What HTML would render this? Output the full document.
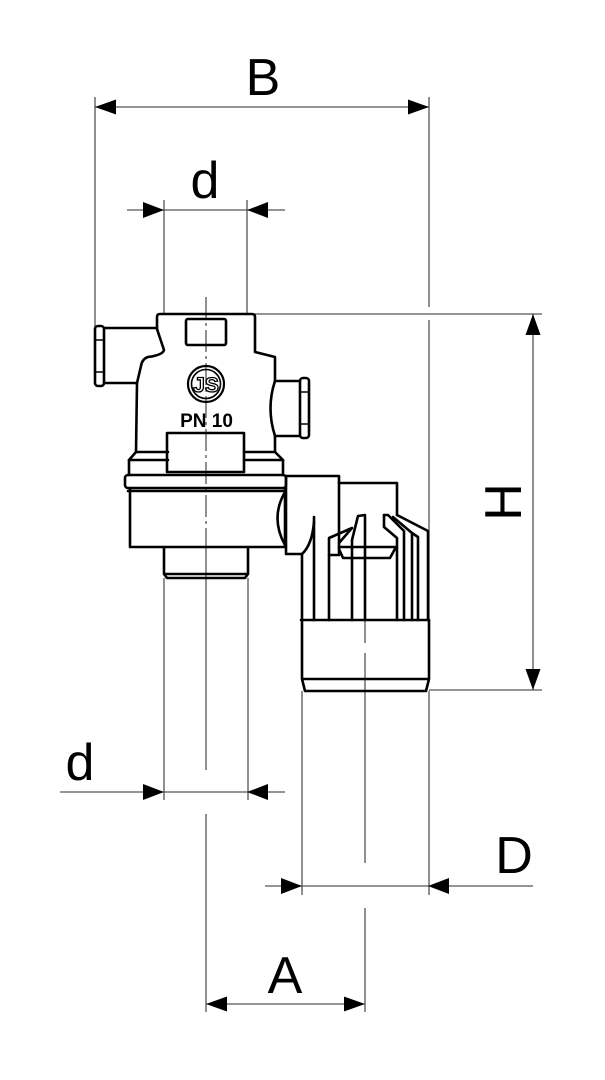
<!DOCTYPE html>
<html><head><meta charset="utf-8"><style>
html,body{margin:0;padding:0;background:#fff;}
svg{display:block;}
text{font-family:"Liberation Sans",sans-serif;}
</style></head><body>
<svg width="605" height="1080" viewBox="0 0 605 1080" xmlns="http://www.w3.org/2000/svg">
<rect width="605" height="1080" fill="#fff"/>

<!-- thin dimension / extension lines -->
<g stroke="#555" stroke-width="1.3" fill="none">
  <!-- B -->
  <line x1="95" y1="107" x2="429" y2="107"/>
  <line x1="95" y1="97" x2="95" y2="327"/>
  <line x1="429" y1="97" x2="429" y2="307"/>
  <line x1="429" y1="320" x2="429" y2="620"/>
  <line x1="429" y1="691" x2="429" y2="895"/>
  <!-- d top -->
  <line x1="127" y1="210" x2="285" y2="210"/>
  <line x1="164" y1="200" x2="164" y2="314"/>
  <line x1="247" y1="200" x2="247" y2="314"/>
  <!-- H -->
  <line x1="255" y1="314" x2="542" y2="314"/>
  <line x1="429" y1="690" x2="542" y2="690"/>
  <line x1="533" y1="314" x2="533" y2="690"/>
  <!-- d bottom -->
  <line x1="60" y1="792" x2="285" y2="792"/>
  <line x1="164" y1="578" x2="164" y2="800"/>
  <line x1="248" y1="578" x2="248" y2="800"/>
  <!-- D -->
  <line x1="265" y1="886" x2="533" y2="886"/>
  <line x1="302" y1="691" x2="302" y2="895"/>
  <!-- A -->
  <line x1="206" y1="1004" x2="365" y2="1004"/>
  <!-- centerlines -->
  <line x1="206" y1="297" x2="206" y2="547" stroke-dasharray="22,4,3,4"/>
  <line x1="206" y1="547" x2="206" y2="770"/>
  <line x1="206" y1="814" x2="206" y2="1012"/>
  <line x1="365" y1="620" x2="365" y2="643"/>
  <line x1="365" y1="653" x2="365" y2="863"/>
  <line x1="365" y1="908" x2="365" y2="1012"/>
</g>

<!-- arrowheads -->
<g fill="#000">
  <polygon points="95,107 116,99.5 116,114.5"/>
  <polygon points="429,107 408,99.5 408,114.5"/>
  <polygon points="164,210 143,202 143,218"/>
  <polygon points="247,210 268,202 268,218"/>
  <polygon points="533,314 525.5,335 540.5,335"/>
  <polygon points="533,690 525.5,669 540.5,669"/>
  <polygon points="164,792 143,784 143,800"/>
  <polygon points="247,792 268,784 268,800"/>
  <polygon points="302,886 281,878 281,894"/>
  <polygon points="428,886 449,878 449,894"/>
  <polygon points="206,1004 227,996.5 227,1011.5"/>
  <polygon points="365,1004 344,996.5 344,1011.5"/>
</g>

<!-- labels -->
<g fill="#000" font-size="52" text-anchor="middle">
  <text x="263" y="95">B</text>
  <text x="205" y="198">d</text>
  <text x="80" y="780">d</text>
  <text x="514" y="873">D</text>
  <text x="285" y="993">A</text>
  <text x="502" y="521" transform="rotate(-90 502 502)">H</text>
</g>

<!-- valve body -->
<g stroke="#000" stroke-width="2.6" fill="none" stroke-linejoin="round" stroke-linecap="round">
  <path d="M157,329 L157,317 Q157,314 160,314 L252,314 Q255,314 255,317 L255,352 L275,357 L275,381"/>
  <path d="M275,436 L275,452 L283,460 L283,475"/>
  <path d="M157,329 L164,350 Q163,355 148,357 Q142,359 141,366 L137,383 L136,452 L129,460 L129,475"/>
  <!-- left port -->
  <path d="M157,328 L104,328 M137,383 L104,383"/>
  <rect x="95" y="326" width="9" height="60" rx="3"/>
  <path d="M96,340 L103,340 M96,372 L103,372" stroke-width="1.6"/>
  <!-- right port -->
  <path d="M275,381 L300,381 M275,436 L300,436"/>
  <path d="M275,381 Q266,408 275,436"/>
  <rect x="300" y="378" width="9" height="60" rx="3"/>
  <path d="M301,392 L308,392 M301,424 L308,424" stroke-width="1.6"/>
  <!-- nut area -->
  <path d="M136,452 L168,452 M244,452 L275,452 M129,460 L168,460 M244,460 L283,460"/>
  <rect x="167" y="433" width="77" height="39"/>
  <rect x="186" y="319" width="40" height="26" rx="2"/>
  <!-- flange -->
  <rect x="125" y="475" width="161" height="13" rx="3"/>
  <path d="M128,491 L284,491"/>
  <path d="M130,488 L130,547 L285,547 L285,488"/>
  <path d="M285,492 Q270,518 285,545"/>
  <!-- spigot -->
  <path d="M164,547 L164,574 L167,578 L245,578 L248,574 L248,547 M164,574 L248,574"/>

  <!-- elbow -->
  <path d="M286,476 L286,554 L302,554"/>
  <path d="M286,476 L339,476 L339,555 L329,555"/>
  <path d="M339,483 L397,483 L397,515"/>
  <path d="M302,554 L302,620"/>
  <path d="M314,517 L314,620"/>
  <path d="M314,522 Q312,545 302,554"/>
  <path d="M329,620 L329,538 L352,528 L339,543"/>
  <path d="M339,547 L396,547 L390,558 L343,558 L339,549"/>
  <path d="M352,620 L352,540 L358,516 L365,515 L365,620"/>
  <!-- fins -->
  <path d="M384,515 L384,527 L397,538 L397,620"/>
  <path d="M384,515 L388,515 L404,531 L404,620"/>
  <path d="M393,517 L412,533 L412,620"/>
  <path d="M412,533 L418,537 L418,620"/>
  <path d="M397,515 L428,531 L428,620"/>
  <!-- bottom -->
  <path d="M301,620 L429,620"/>
  <path d="M302,620 L302,679 L305,691 L426,691 L429,679 L429,620 M302,679 L429,679"/>
</g>

<!-- logo -->
<g stroke="#000" fill="none">
  <circle cx="206" cy="384" r="18" stroke-width="2.2"/>
  <circle cx="206" cy="384" r="14.5" stroke-width="1.6"/>
</g>
<text x="206" y="392" font-size="21" font-weight="bold" text-anchor="middle" fill="none" stroke="#000" stroke-width="1.3">JS</text>
<text x="206.5" y="427" font-size="19" font-weight="bold" text-anchor="middle" fill="#000">PN 10</text>
</svg>
</body></html>
